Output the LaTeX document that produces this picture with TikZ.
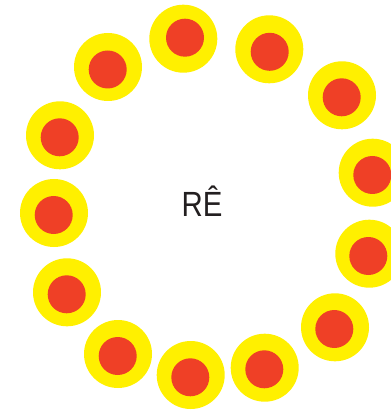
\documentclass[tikz,border=0pt]{standalone}
\usepackage{fontspec}
\setmainfont{Liberation Sans}
\definecolor{sunyellow}{HTML}{FFF000}
\definecolor{sunred}{HTML}{EF4026}
\definecolor{inkgray}{HTML}{231F20}

\begin{document}
\begin{tikzpicture}[x=1pt, y=-1pt,
  halo/.style={fill=sunyellow},
  core/.style={fill=sunred},
  wordlabel/.style={font=\fontsize{35}{40}\selectfont, text=inkgray, inner sep=0pt, anchor=base}]
  \useasboundingbox (0,0) rectangle (390,411);
  % ring of beads
  \foreach \cx/\cy/\dx/\dy in {183.3/38.7/1.7/-1, 269.3/49.3/0.4/2.5, 342/95.3/-0.3/2,
    372.7/172.7/-0.4/2.3, 369.3/253.7/-1/2.3, 335/327.3/-0.7/1.7, 264.7/367.7/-0.4/1.6,
    190.7/375/-0.4/2.3, 118/354/-0.3/2, 67/292.3/-0.3/2, 54/213/-0.3/2, 60/135.3/-0.3/2,
    108/67/-0.3/2.5} {
    \fill[halo] (\cx,\cy) circle (34pt);
    \fill[core] (\cx+\dx,\cy+\dy) circle (19pt);
  }
  \node[wordlabel] (word) at (202,216.7) {\scalebox{0.84}[1]{RÊ}};
\end{tikzpicture}
\end{document}
